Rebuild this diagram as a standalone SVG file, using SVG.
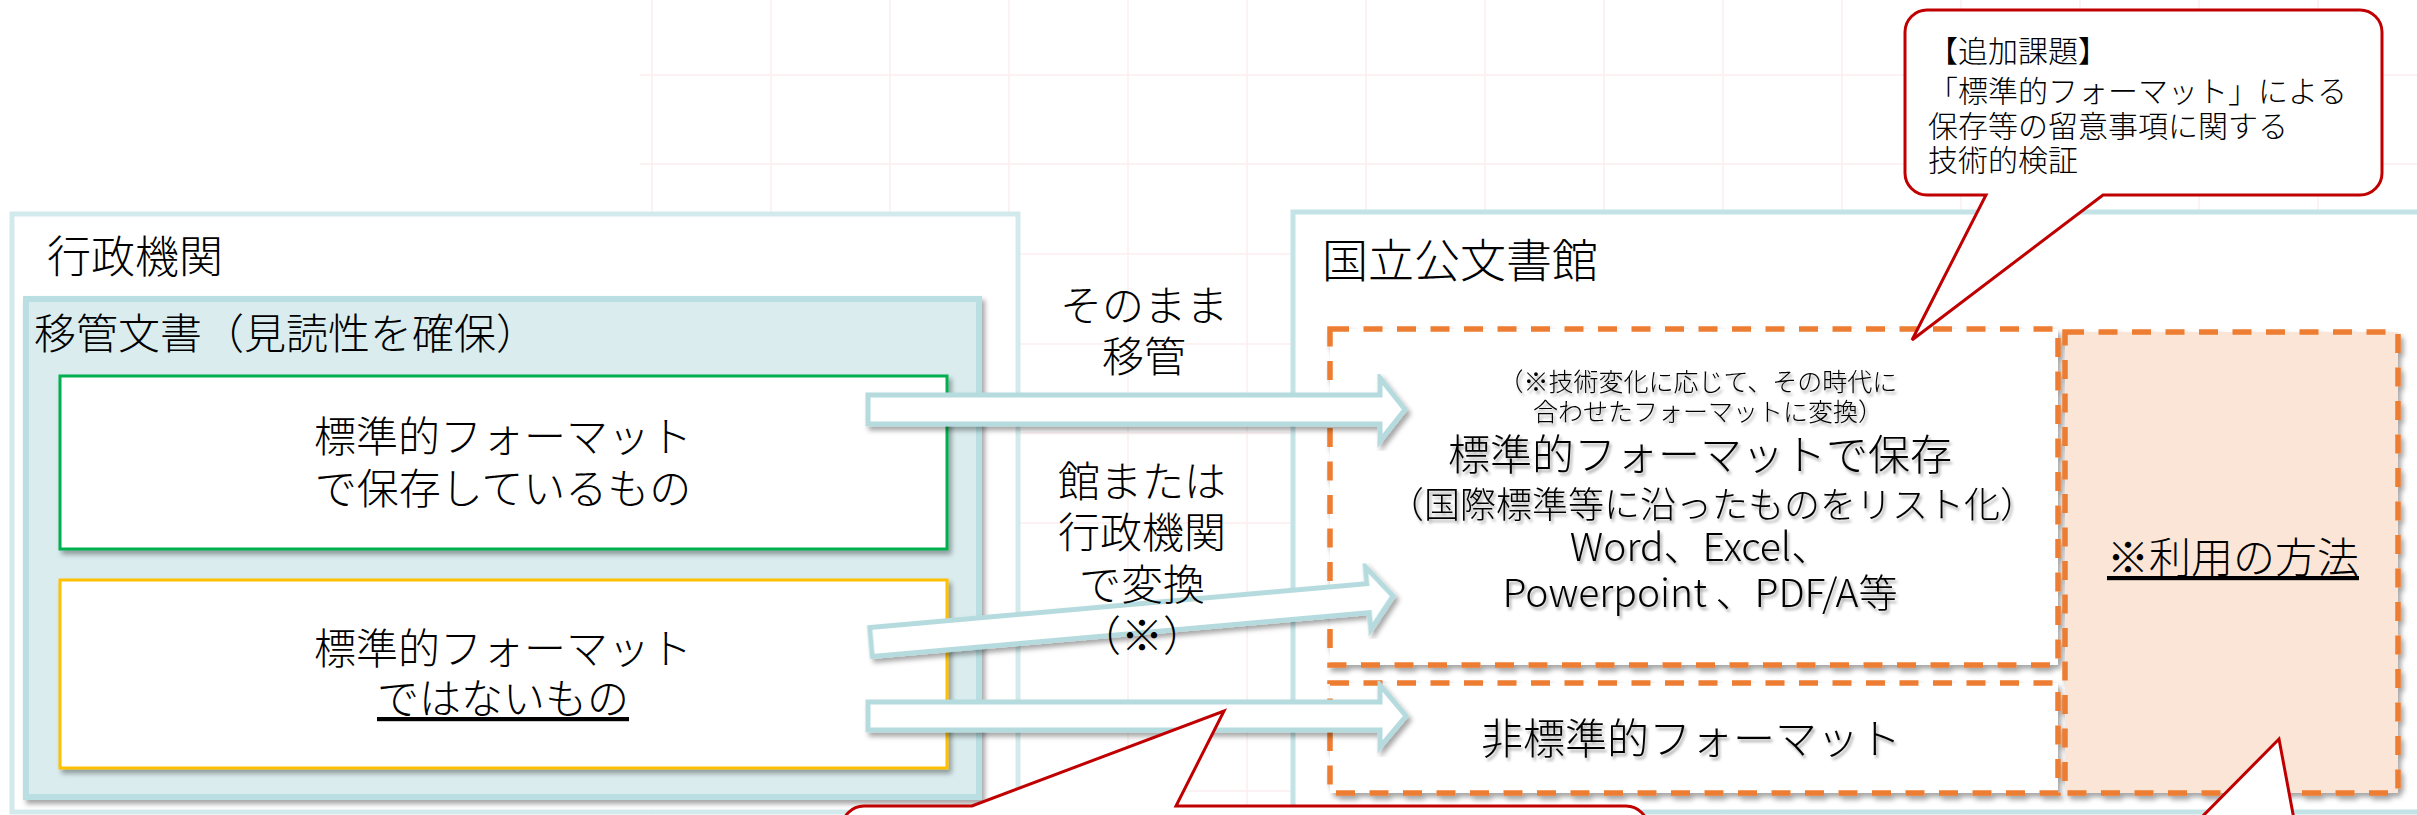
<svg xmlns="http://www.w3.org/2000/svg" width="2417" height="815" viewBox="0 0 2417 815">
<defs>
<style>
.t{font-family:"Noto Sans CJK JP","Noto Sans",sans-serif;fill:#000;font-weight:300}
.c{text-anchor:middle}
.u{text-decoration:underline}
.grid line{stroke:#fbeef1;stroke-width:1.5}
.arrow{fill:#fff;stroke:#b5dbde;stroke-width:5;stroke-linejoin:miter;filter:url(#sh)}
.dash{stroke:#ed7d31;stroke-width:5.5;stroke-dasharray:19 14.5}
.callout{fill:#fff;stroke:#c00000;stroke-width:3;stroke-linejoin:miter}
.ts{filter:url(#tsh)}
</style>
<filter id="sh" x="-5%" y="-5%" width="110%" height="120%">
<feDropShadow dx="3" dy="4" stdDeviation="2.5" flood-color="#000" flood-opacity="0.35"/>
</filter>
<filter id="tsh" x="-5%" y="-20%" width="110%" height="150%">
<feDropShadow dx="2" dy="3" stdDeviation="1.5" flood-color="#000" flood-opacity="0.35"/>
</filter>
</defs>
<rect width="2417" height="815" fill="#fff"/>
<g id="background-grid" class="grid">
<line x1="652" y1="0" x2="652" y2="815"/><line x1="771" y1="0" x2="771" y2="815"/><line x1="890" y1="0" x2="890" y2="815"/><line x1="1009" y1="0" x2="1009" y2="815"/><line x1="1128" y1="0" x2="1128" y2="815"/><line x1="1247" y1="0" x2="1247" y2="815"/><line x1="1366" y1="0" x2="1366" y2="815"/><line x1="1485" y1="0" x2="1485" y2="815"/><line x1="1604" y1="0" x2="1604" y2="815"/><line x1="1723" y1="0" x2="1723" y2="815"/><line x1="1842" y1="0" x2="1842" y2="815"/><line x1="1961" y1="0" x2="1961" y2="815"/><line x1="2080" y1="0" x2="2080" y2="815"/><line x1="2199" y1="0" x2="2199" y2="815"/><line x1="2318" y1="0" x2="2318" y2="815"/>
<line x1="640" y1="75" x2="2417" y2="75"/><line x1="640" y1="164" x2="2417" y2="164"/><line x1="640" y1="254" x2="2417" y2="254"/><line x1="640" y1="344" x2="2417" y2="344"/><line x1="640" y1="433" x2="2417" y2="433"/><line x1="640" y1="523" x2="2417" y2="523"/><line x1="640" y1="612" x2="2417" y2="612"/><line x1="640" y1="702" x2="2417" y2="702"/><line x1="640" y1="791" x2="2417" y2="791"/>
</g>
<g id="gyosei-kikan">
<rect x="12" y="214" width="1006" height="598" fill="#fff" stroke="#d2eaec" stroke-width="5"/>
<text class="t" x="47" y="273" font-size="44">行政機関</text>
</g>
<g id="ikan-bunsho">
<rect x="26" y="299" width="953" height="498" fill="#daecee" stroke="#b9dfe2" stroke-width="6" filter="url(#sh)"/>
<text class="t" x="34" y="349" font-size="42">移管文書（見読性を確保）</text>
</g>
<g id="standard-format">
<rect x="60" y="376" width="887" height="173" fill="#fff" stroke="#00b050" stroke-width="3" filter="url(#sh)"/>
<text class="t c" x="503" y="452" font-size="42">標準的フォーマット</text>
<text class="t c" x="503" y="504" font-size="42">で保存しているもの</text>
</g>
<g id="non-standard-format">
<rect x="60" y="580" width="887" height="188" fill="#fff" stroke="#ffc000" stroke-width="3" filter="url(#sh)"/>
<text class="t c" x="503" y="664" font-size="42">標準的フォーマット</text>
<text class="t c u" x="503" y="714" font-size="42">ではないもの</text>
</g>
<g id="kokuritsu-kobunshokan">
<rect x="1293" y="212" width="1140" height="600" fill="#fff" stroke="#c3e3e6" stroke-width="5"/>
<text class="t" x="1322" y="277" font-size="46">国立公文書館</text>
</g>
<g id="standard-storage">
<rect x="1330" y="329" width="728" height="336" fill="#fff" class="dash" filter="url(#sh)"/>
<g class="ts">
<text class="t c" x="1698" y="391" font-size="25">（※技術変化に応じて、その時代に</text>
<text class="t c" x="1708" y="421" font-size="25">合わせたフォーマットに変換）</text>
<text class="t c" x="1700" y="470" font-size="42">標準的フォーマットで保存</text>
<text class="t c" x="1712" y="518" font-size="36">（国際標準等に沿ったものをリスト化）</text>
<text class="t c" x="1700" y="561" font-size="39">Word、Excel、</text>
<text class="t c" x="1700" y="607" font-size="39">Powerpoint 、PDF/A等</text>
</g>
</g>
<g id="non-standard-storage">
<rect x="1330" y="683" width="728" height="110" fill="#fff" class="dash" filter="url(#sh)"/>
<text class="t c ts" x="1691" y="754" font-size="42">非標準的フォーマット</text>
</g>
<g id="usage">
<rect x="2065" y="332" width="333" height="461" fill="#fbe5d6" class="dash" filter="url(#sh)"/>
<text class="t c u" x="2233" y="573" font-size="42">※利用の方法</text>
</g>
<g id="connectors">
<polygon class="arrow" points="868,395 1380,395 1380,378 1405,409.5 1380,441 1380,424 868,424"/>
<polygon class="arrow" transform="translate(871,642) rotate(-5.04)" points="0,-14.5 499,-14.5 499,-31.5 524,0 499,31.5 499,14.5 0,14.5"/>
<polygon class="arrow" points="868,702 1380,702 1380,685 1406,716 1380,747 1380,730 868,730"/>
</g>
<g id="transfer-labels">
<text class="t c" x="1144" y="321" font-size="42">そのまま</text>
<text class="t c" x="1144" y="372" font-size="42">移管</text>
<text class="t c" x="1142" y="497" font-size="42">館または</text>
<text class="t c" x="1142" y="548" font-size="42">行政機関</text>
<text class="t c" x="1142" y="600" font-size="42">で変換</text>
<text class="t c" x="1142" y="651" font-size="42">（※）</text>
</g>
<g id="callout-additional-task">
<path class="callout" d="M1927,10 H2360 A22,22 0 0 1 2382,32 V173 A22,22 0 0 1 2360,195 H2103 L1912,340 L1986,195 H1927 A22,22 0 0 1 1905,173 V32 A22,22 0 0 1 1927,10 Z"/>
<text class="t" x="1928" y="62" font-size="30">【追加課題】</text>
<text class="t" x="1928" y="102" font-size="30">「標準的フォーマット」による</text>
<text class="t" x="1928" y="137" font-size="30">保存等の留意事項に関する</text>
<text class="t" x="1928" y="171" font-size="30">技術的検証</text>
</g>
<g id="callout-bottom-middle">
<path class="callout" d="M864,806 H972 L1224,711 L1176,806 H1626 A22,22 0 0 1 1648,828 V900 H842 V828 A22,22 0 0 1 864,806 Z"/>
</g>
<g id="callout-bottom-right">
<path class="callout" d="M2122,830 H2189 L2279,739 L2296,830 H2440 V920 H2100 V852 A22,22 0 0 1 2122,830 Z"/>
</g>
</svg>
